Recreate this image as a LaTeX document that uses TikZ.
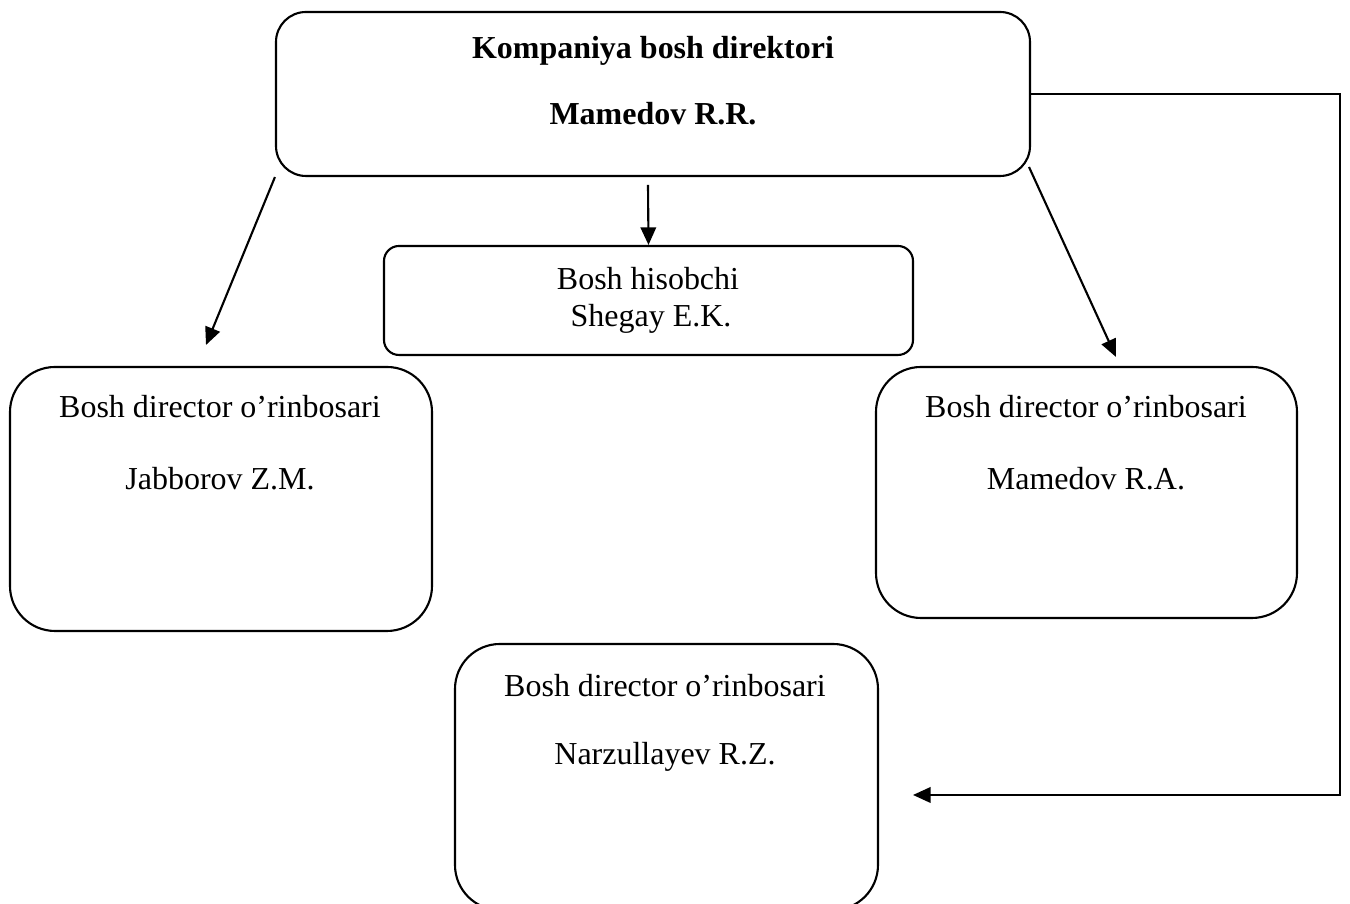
\documentclass[tikz,border=0pt]{standalone}
\usepackage{fontspec}
\setmainfont{Liberation Serif}
\usepackage{tikz}
\usetikzlibrary{arrows.meta}
\tikzset{
	box/.style={draw, line width=0.6pt, inner sep=0pt},
	txt/.style={anchor=base, inner sep=0pt, font=\fontsize{9.1}{11}\selectfont},
	link/.style={line width=0.6pt, -{Triangle[length=5pt,width=4.4pt]}}
}

\begin{document}
\begin{tikzpicture}
	\useasboundingbox (0,0) rectangle (13.5,9.04);
	
	\node[box, rounded corners=0.3cm, minimum width=7.54cm, minimum height=1.64cm] (ceo) at (6.53,8.10) {};
	\node[box, rounded corners=0.15cm, minimum width=5.29cm, minimum height=1.09cm] (acc) at (6.485,6.035) {};
	\node[box, rounded corners=0.45cm, minimum width=4.22cm, minimum height=2.64cm] (jab) at (2.21,4.05) {};
	\node[box, rounded corners=0.45cm, minimum width=4.21cm, minimum height=2.51cm] (mam) at (10.865,4.115) {};
	\node[box, rounded corners=0.45cm, minimum width=4.23cm, minimum height=2.66cm] (nar) at (6.665,1.27) {};
	
	\node[txt, font=\fontsize{9.1}{11}\selectfont\bfseries] (ceoA) at (6.53,8.45) {Kompaniya bosh direktori};
	\node[txt, font=\fontsize{9.1}{11}\selectfont\bfseries] (ceoB) at (6.53,7.79) {Mamedov R.R.};
	\node[txt] (accA) at (6.48,6.14) {Bosh hisobchi};
	\node[txt] (accB) at (6.51,5.77) {Shegay E.K.};
	\node[txt] (jabA) at (2.20,4.86) {Bosh director o’rinbosari};
	\node[txt] (jabB) at (2.20,4.14) {Jabborov Z.M.};
	\node[txt] (mamA) at (10.86,4.86) {Bosh director o’rinbosari};
	\node[txt] (mamB) at (10.86,4.14) {Mamedov R.A.};
	\node[txt] (narA) at (6.65,2.07) {Bosh director o’rinbosari};
	\node[txt] (narB) at (6.65,1.39) {Narzullayev R.Z.};
	
	% arrow ends
	\coordinate (jabIn) at (2.06,5.59);
	\coordinate (mamIn) at (11.16,5.47);
	\coordinate (ceoR) at (10.29,7.37);
	\coordinate (accOut) at (6.48,7.19);
	\coordinate (loopTop) at (13.40,8.10);
	\coordinate (narIn) at (9.13,1.09);
	
	\draw[link] (ceo.south west) -- (jabIn);
	\draw[link] (accOut) -- (acc.north);
	\draw[link] (ceoR) -- (mamIn);
	\draw[link] (ceo.east) -- (loopTop) |- (narIn);
\end{tikzpicture}
\end{document}
